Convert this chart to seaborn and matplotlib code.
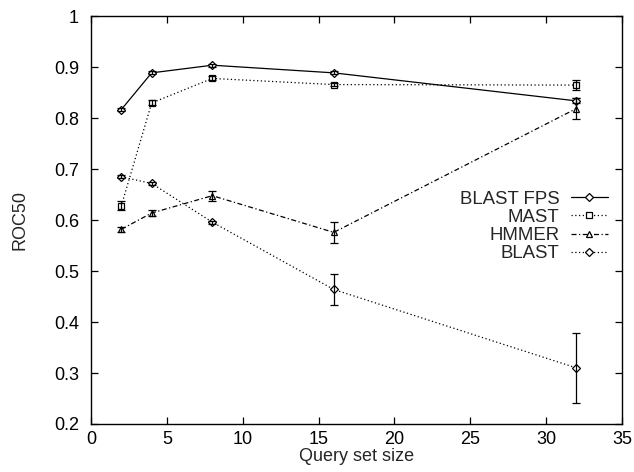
import matplotlib
matplotlib.use("Agg")
import matplotlib.pyplot as plt
import seaborn as sns
import pandas as pd

# Query set sizes and mean ROC50 per method, with error half-widths
query_sizes = [2, 4, 8, 16, 32]
blast_fps = [0.817, 0.889, 0.904, 0.889, 0.834]
blast_fps_err = [0.003, 0.003, 0.003, 0.003, 0.005]
mast = [0.628, 0.830, 0.878, 0.866, 0.865]
mast_err = [0.009, 0.005, 0.004, 0.003, 0.009]
hmmer = [0.582, 0.614, 0.648, 0.576, 0.819]
hmmer_err = [0.005, 0.005, 0.010, 0.021, 0.021]
blast = [0.685, 0.672, 0.596, 0.464, 0.310]
blast_err = [0.003, 0.003, 0.003, 0.030, 0.068]

x_ticks = [0, 5, 10, 15, 20, 25, 30, 35]
y_ticks = [0.2, 0.3, 0.4, 0.5, 0.6, 0.7, 0.8, 0.9, 1]
y_tick_labels = ["0.2", "0.3", "0.4", "0.5", "0.6", "0.7", "0.8", "0.9", "1"]

sns.set_theme(style="ticks")
plt.rcParams["font.family"] = ["Liberation Sans", "DejaVu Sans"]

fig = plt.figure(figsize=(6.34, 4.72), dpi=100)
ax = fig.add_axes([0.1435, 0.1017, 0.8375, 0.8638])

series = [
    ("BLAST FPS", blast_fps, blast_fps_err, "D", None),
    ("MAST", mast, mast_err, "s", (1.0, 2.0)),
    ("HMMER", hmmer, hmmer_err, "^", (4.0, 2.0, 1.0, 2.0)),
    ("BLAST", blast, blast_err, "D", (1.0, 2.0)),
]

for name, vals, errs, mk, dash in series:
    df = pd.DataFrame({"size": query_sizes, "roc": vals})
    kw = dict(color="black", linewidth=0.9, marker=mk, markersize=4,
              markerfacecolor="white", markeredgecolor="black",
              markeredgewidth=0.9, label=name)
    if dash is None:
        kw["linestyle"] = "-"
    else:
        kw["dashes"] = dash
    sns.lineplot(data=df, x="size", y="roc", ax=ax, **kw)
    ax.errorbar(query_sizes, vals, yerr=errs, fmt="none", ecolor="black",
                elinewidth=0.9, capsize=3, capthick=0.9)

ax.set_xlim(0, 35)
ax.set_ylim(0.2, 1.0)
ax.set_xticks(x_ticks)
ax.set_yticks(y_ticks)
ax.set_yticklabels(y_tick_labels)
ax.tick_params(direction="in", length=5, width=0.9, top=True, right=True,
               labelsize=13, colors="black")
ax.tick_params(axis="y", pad=8.6)
ax.tick_params(axis="x", pad=5)
for sp in ax.spines.values():
    sp.set_linewidth(1.0)
    sp.set_color("black")
    sp.set_visible(True)

ax.set_xlabel("Query set size", fontsize=13, labelpad=0)
ax.set_ylabel("ROC50", fontsize=13, labelpad=18)

leg = ax.legend(loc="upper right", bbox_to_anchor=(0.991, 0.595),
                frameon=False, markerfirst=False, fontsize=13.4,
                handlelength=2.0, handletextpad=0.6, labelspacing=0.06,
                borderpad=0)

fig.savefig("out.png", dpi=100)
